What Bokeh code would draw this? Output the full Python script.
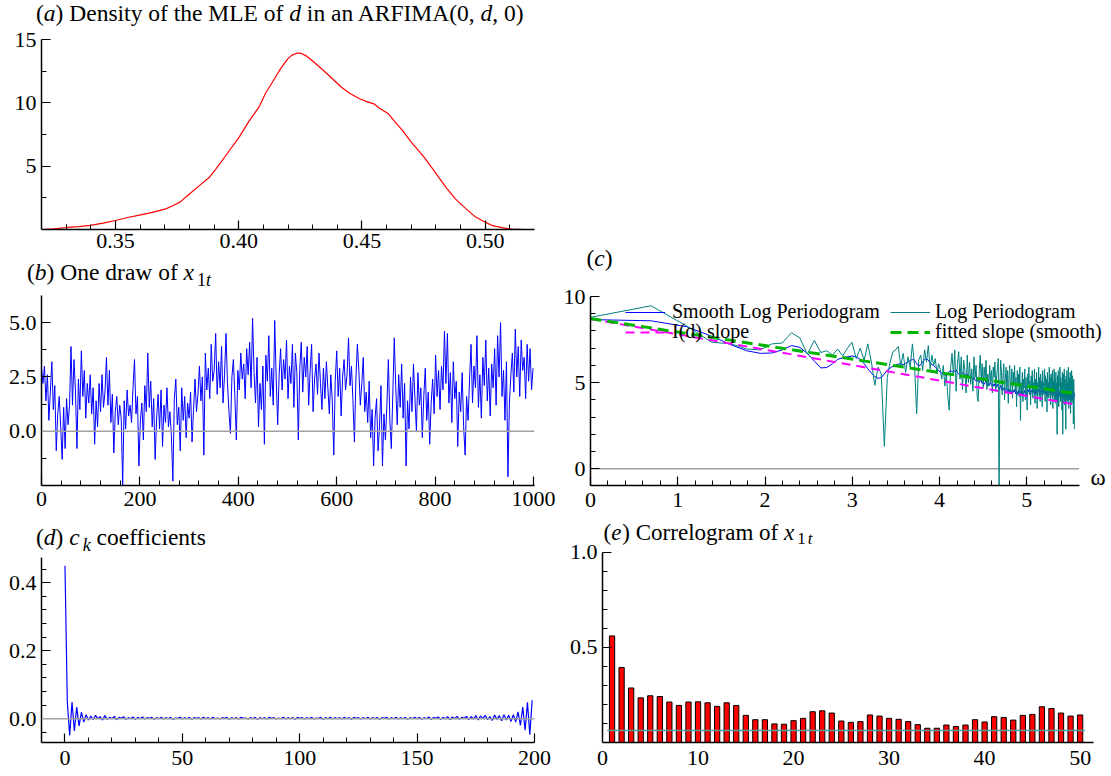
import numpy as np
from bokeh.plotting import figure
from bokeh.models import FixedTicker, PrintfTickFormatter, Span, Label, Legend, LegendItem, Div
from bokeh.layouts import column, row
from bokeh.embed import file_html
from bokeh.resources import INLINE

FONT = "serif"

# ---------------- data ----------------
# (a) density of the MLE of d
mle_d = [0.3204, 0.325, 0.3303, 0.335, 0.3398, 0.345, 0.35, 0.355, 0.3602, 0.365, 0.3704, 0.373,
         0.3762, 0.380, 0.3849, 0.388, 0.3908, 0.395, 0.4002, 0.404, 0.4082, 0.411, 0.4141, 0.417,
         0.4199, 0.4215, 0.4235, 0.425, 0.4272, 0.430, 0.4344, 0.438, 0.4417, 0.445, 0.449, 0.452,
         0.4548, 0.457, 0.4607, 0.463, 0.4665, 0.470, 0.4752, 0.479, 0.484, 0.488, 0.4927, 0.496,
         0.500, 0.503, 0.5073, 0.511, 0.5161]
mle_density = [0.0, 0.05, 0.16, 0.22, 0.32, 0.5, 0.71, 0.95, 1.16, 1.35, 1.63, 1.85,
               2.16, 2.8, 3.6, 4.1, 4.79, 5.9, 7.29, 8.5, 9.66, 10.8, 11.76, 12.7,
               13.47, 13.75, 13.92, 13.93, 13.73, 13.3, 12.55, 11.9, 11.23, 10.75, 10.32, 10.1,
               9.92, 9.6, 9.13, 8.6, 7.81, 6.9, 5.71, 4.7, 3.34, 2.4, 1.55, 1.0,
               0.58, 0.3, 0.13, 0.03, 0.0]

# (b) one draw of x_1t (every 3rd observation)
x1t_step = 3
x1t = [
    2.9, 2.2, 3.0, 1.4, 2.6, 0.5, 1.8, 3.2, 1.0, 2.1, -0.9, 0.8, 1.6, 0.2, -1.3, 1.1, -0.8, 1.5, 0.3, 1.2,
    3.9, 1.2, 3.3, 1.9, -0.8, 2.4, 1.0, 3.7, 1.6, 2.8, 0.6, 2.2, 1.3, 2.6, 0.8, 2.0, -0.6, 1.4, 0.2, 2.2,
    0.9, 2.6, 1.1, 1.8, 3.4, 1.2, 2.8, 0.4, 1.7, -1.0, 0.9, 1.6, 0.3, 1.2, 0.6, -2.5, 1.4, 0.1, 1.9, 0.7,
    1.2, 0.4, 2.0, 3.3, 0.8, 1.6, -1.6, 0.5, 1.3, -0.4, 2.1, 0.9, 3.6, 1.1, 2.3, 0.2, 1.5, -1.3, 0.6, 1.7,
    0.1, 1.9, -0.7, 1.2, 0.4, 2.0, 0.2, 0.9, -0.2, -2.3, 1.5, 2.4, 0.3, 1.1, -0.9, 2.0, 0.5, 1.6, -0.3, 1.3,
    0.6, 1.8, -0.5, 1.0, 2.4, 0.9, 1.7, 3.0, 1.4, 2.5, -1.1, 3.6, 1.9, 2.9, 1.5, 4.0, 2.3, 2.8, 4.5, 1.7,
    3.2, 2.0, 3.9, 1.3, 2.6, 4.5, 2.2, 0.9, -0.1, 2.5, 3.3, 1.6, -0.4, 2.8, 1.9, 3.6, 2.4, 3.1, 1.5, 3.8,
    2.6, 4.1, 2.0, 5.2, 2.7, 1.3, 3.4, 0.2, 2.2, 1.0, 3.0, -0.6, 3.5, 2.3, 4.4, 1.6, 2.9, 1.2, 5.1, 2.4,
    0.3, 2.6, 3.8, 1.9, 3.3, 2.4, 4.2, 1.5, 3.0, 2.2, 4.0, 1.1, 3.6, 2.7, -0.4, 2.9, 4.1, 1.8, 3.4, 2.5,
    3.9, 1.2, 2.8, 4.0, 0.9, 2.4, 3.1, 1.7, 3.6, 2.2, 1.0, 2.9, 1.5, 3.2, 2.0, 0.8, 2.6, 1.4, -1.1, 2.3,
    3.7, 1.6, 2.9, 0.7, 2.5, 3.3, 1.9, 2.6, 4.3, 2.1, 3.0, 1.4, -0.5, 2.4, 4.0, 2.8, 1.2, 2.2, 3.4, 0.9,
    1.8, 0.4, 2.3, -0.3, 1.0, -1.6, 0.6, 1.5, -0.9, 0.2, 2.1, -1.6, 0.8, -0.4, 1.2, 3.3, 0.5, -0.8, 1.7, 4.3,
    2.0, 0.3, 2.6, 1.1, 3.1, 0.6, 2.2, -1.6, 1.4, 0.1, 2.5, 0.9, 3.1, 1.5, 0.0, 2.7, 1.2, 2.0, -0.3, 1.6,
    2.9, 0.5, 1.8, -0.6, 1.3, 2.4, 0.8, 3.5, 1.6, 2.8, 1.0, 3.0, 1.9, 4.6, 2.2, 4.5, 1.3, 2.7, 0.4, 3.2,
    1.5, 2.3, -0.7, 1.8, 0.9, 2.7, 0.2, -1.1, 1.6, 0.5, 2.4, 4.0, 1.3, 3.0, 2.0, 4.4, 1.1, 2.6, 0.6, 3.4,
    2.1, 4.2, 1.4, 2.9, 0.7, 3.1, 2.0, 3.8, 1.2, 4.4, 2.5, 5.0, 1.6, 2.8, 0.5, 3.2, -2.1, 1.3, 2.6, 3.6,
    1.8, 4.7, 2.5, 3.9, 1.6, 4.2, 2.8, 3.4, 1.5, 4.0, 2.3, 3.8, 1.9, 2.9]

# (c) log periodogram at Fourier frequency index j = 1..256 (plotted against log j)
log_periodogram = [
    8.79, 9.46, 8.3, 7.35, 7.25, 6.95, 6.9, 7.25, 7.3, 7.9, 7.6, 6.65, 7.45, 6.75, 6.85, 6.6,
    6.95, 6.55, 7.0, 7.35, 6.4, 7.0, 6.3, 7.25, 6.2, 4.85, 5.9, 5.5, 1.3, 5.3, 6.2, 6.8,
    6.9, 7.1, 6.0, 6.7, 5.6, 6.5, 5.9, 7.25, 6.0, 3.2, 6.3, 6.6, 5.7, 6.9, 6.2, 7.15,
    5.8, 6.6, 6.0, 6.4, 5.5, 6.1, 5.8, 5.2, 6.0, 4.8, 5.5, 4.2, 3.4, 5.9, 6.7, 5.4,
    6.9, 4.5, 6.1, 6.8, 5.2, 6.5, 4.6, 6.3, 5.7, 4.4, 6.6, 5.0, 6.2, 4.9, 5.8, 4.5,
    6.5, 5.3, 6.0, 4.2, 3.9, 5.6, 6.6, 5.1, 6.1, 4.7, 5.9, 5.2, 6.3, 4.6, 5.5, 4.8,
    6.0, 5.0, 5.7, 4.4, 5.9, 5.3, 6.2, 4.5, 5.4, 5.8, 6.4, -1.5, 4.9, 6.3, 5.6, 4.3,
    5.5, 6.1, 4.0, 5.2, 5.9, 4.6, 5.7, 3.8, 5.4, 6.0, 4.4, 5.1, 5.8, 4.1, 5.6, 4.9,
    6.0, 4.5, 5.3, 3.6, 5.7, 4.8, 5.5, 4.2, 5.9, 2.8, 5.0, 4.4, 5.6, 3.9, 5.2, 4.7,
    5.8, 4.0, 5.3, 4.6, 3.4, 5.5, 4.9, 5.9, 4.3, 5.1, 3.7, 5.4, 4.8, 5.7, 4.1, 5.0,
    4.5, 5.8, 3.8, 5.2, 4.4, 5.6, 3.5, 5.0, 4.7, 5.9, 4.2, 5.3, 3.9, 5.5, 4.6, 5.1,
    3.6, 5.7, 4.3, 5.0, 4.8, 5.8, 3.9, 5.4, 4.5, 5.2, 3.3, 5.6, 4.7, 5.0, 4.1, 5.9,
    4.4, 5.3, 3.7, 5.5, 4.9, 4.2, 5.7, 3.5, 5.1, 4.6, 5.8, 4.0, 5.2, 3.8, 5.6, 4.5,
    5.0, 2.0, 5.4, 4.3, 5.7, 3.6, 5.1, 4.8, 5.9, 3.9, 5.3, 4.4, 5.0, 3.4, 5.6, 2.0,
    4.7, 5.5, 4.1, 5.8, 3.7, 5.2, 4.6, 2.3, 5.4, 4.2, 5.7, 3.9, 5.0, 4.5, 5.9, 3.5,
    5.3, 4.8, 4.0, 5.6, 3.2, 5.1, 4.6, 5.7, 3.8, 5.4, 4.3, 5.0, 2.6, 5.2, 4.4, 2.3]
smooth_log_periodogram = [
    8.66, 8.59, 8.25, 7.7, 7.2, 6.85, 6.7, 6.72, 6.9, 7.15, 7.05, 6.7, 6.25, 5.85, 5.88, 6.1,
    6.35, 6.45, 6.5, 6.55, 6.5, 6.35, 6.1, 5.8, 5.55, 5.35, 5.25, 5.3, 5.5, 5.72, 5.85, 5.95,
    6.0, 6.08, 6.1, 6.05, 6.12, 6.2, 6.28, 6.35, 6.3, 6.1, 5.95, 6.05, 6.2, 6.35, 6.4, 6.3,
    6.15, 6.05, 6.0, 5.9, 5.8, 5.7, 5.6, 5.55, 5.5, 5.45, 5.4, 5.5, 5.65, 5.7, 5.65, 5.6,
    5.7, 5.75, 5.6, 5.5, 5.45, 5.5, 5.6, 5.55, 5.45, 5.4, 5.5, 5.35, 5.3, 5.4, 5.25, 5.2,
    5.3, 5.15, 5.1, 5.2, 5.05, 5.0, 5.15, 5.1, 4.95, 5.05, 4.9, 5.0, 5.1, 4.85, 4.95, 4.8,
    4.9, 5.0, 4.85, 4.75, 4.9, 4.8, 4.95, 4.7, 4.8, 4.9, 4.75, 4.6, 4.7, 4.85, 4.65, 4.55,
    4.7, 4.6, 4.5, 4.65, 4.55, 4.4, 4.6, 4.5, 4.45, 4.6, 4.4, 4.55, 4.5, 4.35, 4.55, 4.45,
    4.6, 4.5, 4.35, 4.5, 4.45, 4.3, 4.55, 4.4, 4.5, 4.2, 4.45, 4.35, 4.5, 4.4, 4.3, 4.45,
    4.55, 4.4, 4.5, 4.35, 4.2, 4.45, 4.5, 4.6, 4.4, 4.5, 4.3, 4.45, 4.55, 4.6, 4.45, 4.5,
    4.4, 4.55, 4.3, 4.45, 4.5, 4.6, 4.3, 4.4, 4.5, 4.6, 4.45, 4.5, 4.35, 4.5, 4.45, 4.55,
    4.3, 4.5, 4.4, 4.45, 4.5, 4.6, 4.35, 4.5, 4.4, 4.45, 4.2, 4.45, 4.5, 4.4, 4.3, 4.55,
    4.45, 4.5, 4.3, 4.5, 4.45, 4.35, 4.5, 4.25, 4.4, 4.45, 4.55, 4.3, 4.4, 4.25, 4.5, 4.4,
    4.35, 3.9, 4.3, 4.35, 4.45, 4.2, 4.35, 4.4, 4.5, 4.2, 4.35, 4.3, 4.4, 4.1, 4.3, 3.8,
    4.2, 4.35, 4.25, 4.4, 4.1, 4.3, 4.25, 3.9, 4.3, 4.2, 4.35, 4.1, 4.25, 4.2, 4.4, 4.0,
    4.25, 4.3, 4.1, 4.35, 3.95, 4.2, 4.25, 4.35, 4.0, 4.25, 4.15, 4.2, 3.9, 4.2, 4.15, 4.4]
id_slope_ends = [8.70, 3.74]        # I(d) slope line, first and last frequency
fitted_slope_ends = [8.72, 4.37]    # fitted slope (smooth), first and last frequency

# (d) c_k coefficients, k = 0..199
ck = [
    0.45, 0.049, -0.049, 0.049, -0.036, 0.034, -0.022, 0.019, -0.010, 0.012,
    -0.004, 0.008, -0.003, 0.010, 0.000, 0.006, -0.004, 0.009, -0.002, 0.004,
    0.000, 0.007, -0.003, 0.004, 0.001, 0.006, -0.002, 0.003, 0.000, 0.005,
    -0.002, 0.004, 0.000, 0.005, -0.001, 0.003, 0.001, 0.004, -0.002, 0.003,
    0.000, 0.004, -0.001, 0.003, 0.000, 0.004, -0.002, 0.002, 0.001, 0.004,
    -0.001, 0.003, 0.000, 0.004, -0.002, 0.003, 0.001, 0.003, -0.001, 0.004,
    0.000, 0.003, -0.001, 0.004, 0.000, 0.002, -0.001, 0.003, 0.001, 0.004,
    -0.002, 0.003, 0.000, 0.003, -0.001, 0.004, 0.001, 0.002, -0.001, 0.003,
    0.000, 0.004, -0.002, 0.003, 0.000, 0.003, -0.001, 0.004, 0.001, 0.003,
    -0.001, 0.002, 0.000, 0.004, -0.001, 0.003, 0.000, 0.003, -0.002, 0.004,
    0.001, 0.003, -0.001, 0.003, 0.000, 0.004, -0.001, 0.002, 0.001, 0.004,
    -0.002, 0.003, 0.000, 0.004, -0.001, 0.003, 0.000, 0.003, -0.001, 0.004,
    0.000, 0.003, -0.002, 0.004, 0.001, 0.003, -0.001, 0.003, 0.000, 0.004,
    -0.001, 0.003, 0.000, 0.004, -0.002, 0.003, 0.001, 0.004, -0.001, 0.003,
    0.000, 0.004, -0.001, 0.003, 0.000, 0.004, -0.002, 0.003, 0.000, 0.004,
    0.000, 0.004, -0.002, 0.003, 0.000, 0.005, -0.002, 0.004, 0.001, 0.005,
    -0.002, 0.004, 0.000, 0.006, -0.003, 0.005, 0.000, 0.007, -0.002, 0.004,
    0.001, 0.007, -0.003, 0.006, -0.001, 0.009, -0.004, 0.008, 0.000, 0.010,
    -0.003, 0.006, -0.005, 0.011, -0.002, 0.009, -0.006, 0.012, -0.004, 0.010,
    -0.008, 0.012, -0.010, 0.020, -0.020, 0.034, -0.034, 0.048, -0.047, 0.054]

# (e) correlogram of x_1t, lags 1..50
acf = [0.561, 0.395, 0.287, 0.235, 0.246, 0.242, 0.213, 0.195, 0.213, 0.214,
       0.209, 0.190, 0.209, 0.195, 0.143, 0.120, 0.120, 0.098, 0.096, 0.115,
       0.127, 0.162, 0.167, 0.155, 0.113, 0.106, 0.110, 0.145, 0.139, 0.127,
       0.122, 0.110, 0.094, 0.075, 0.075, 0.092, 0.084, 0.092, 0.120, 0.108,
       0.136, 0.132, 0.118, 0.143, 0.148, 0.188, 0.179, 0.155, 0.139, 0.145]
acf_band = 0.063

# ---------------- helpers ----------------
TITLE_PX = 23.5
SUB_PX = 18
SUB = ("<span style=\"font-size:" + str(SUB_PX) +
       "px;position:relative;top:6px;margin-left:3px;\">{}</span>")

REG = {' ': 250, '(': 333, ')': 333, ',': 250, '.': 250, 'C': 667,
       'a': 444, 'b': 500, 'c': 444, 'd': 500, 'e': 444, 'f': 333, 'g': 500, 'h': 500, 'i': 278,
       'k': 500, 'l': 278, 'm': 778, 'n': 500, 'o': 500, 'p': 500, 'r': 333, 's': 389, 't': 278,
       'w': 722, 'x': 500, 'y': 500}
ITA = {'a': 500, 'b': 500, 'c': 444, 'd': 500, 'e': 444, 'k': 444, 't': 278, 'x': 444}
LABEL_DY = 10   # vertical correction for Label placement (screen px)


def twidth(s, ital):
    tot = 0
    for ch in s:
        if ch.isdigit():
            tot += 500
        elif ital and ch in ITA:
            tot += ITA[ch]
        else:
            tot += REG.get(ch, 500)
    return tot


def label_title(p, pieces, sx, sy, size=23, sub_size=17, sub_drop=6):
    """Title drawn with Labels inside the frame (screen units from frame bottom-left)."""
    x = sx
    for text, ital, sub in pieces:
        fs = sub_size if sub else size
        lead = len(text) - len(text.lstrip(' '))
        trail = len(text) - len(text.rstrip(' '))
        core = text.strip(' ')
        x += lead * 250 * fs / 1000.0
        if sub:
            x += 2
        y = sy + LABEL_DY - (sub_drop if sub else 0)
        if core:
            p.add_layout(Label(x=x, y=y, x_units="screen", y_units="screen", text=core,
                               text_font=FONT, text_font_size=f"{fs}px",
                               text_font_style="italic" if ital else "normal",
                               text_baseline="alphabetic", text_align="left", text_color="black"))
            x += twidth(core, ital) * fs / 1000.0
        x += trail * 250 * fs / 1000.0
        if ital:
            x += 1


def title_div(html, w, h, pad_left, pad_top):
    inner = ("<div style=\"margin:0;padding:0;padding-left:{}px;padding-top:{}px;"
             "font-family:'Liberation Serif';font-size:{}px;line-height:23px;"
             "white-space:nowrap;color:#000;\">{}</div>").format(pad_left, pad_top, TITLE_PX, html)
    return Div(text=inner, width=w, height=h, margin=0)


def make_fig(w, h, xr, yr, left, right, top, bottom):
    p = figure(width=w, height=h, x_range=xr, y_range=yr, output_backend="svg",
               toolbar_location=None, min_border_left=left, min_border_right=right,
               min_border_top=top, min_border_bottom=bottom, margin=0)
    p.outline_line_color = None
    p.xgrid.visible = False
    p.ygrid.visible = False
    p.background_fill_color = "white"
    p.border_fill_color = "white"
    return p


def style_axis(ax, ticks, minor, fmt=None, standoff=3, tick_in=9, minor_in=5):
    ax.ticker = FixedTicker(ticks=ticks, minor_ticks=minor)
    if fmt:
        ax.formatter = PrintfTickFormatter(format=fmt)
    ax.axis_line_color = "black"
    ax.axis_line_width = 1.5
    ax.major_tick_in = tick_in
    ax.major_tick_out = 0
    ax.minor_tick_in = minor_in
    ax.minor_tick_out = 0
    ax.major_tick_line_color = "black"
    ax.major_tick_line_width = 1.2
    ax.minor_tick_line_color = "black"
    ax.minor_tick_line_width = 1
    ax.major_label_text_font = FONT
    ax.major_label_text_font_size = "22px"
    ax.major_label_text_color = "black"
    ax.major_label_standoff = standoff


def zero_line(p):
    p.add_layout(Span(location=0, dimension="width", line_color="#a0a0a0", line_width=1.5))


# ---------------- (a) ----------------
div_a = title_div("(<i>a</i>) Density of the MLE of <i>d</i> in an ARFIMA(0, <i>d</i>, 0)",
                  560, 26, 36, 2.3)
pa = make_fig(560, 230, (0.32, 0.52), (0, 15), 41, 26, 13, 27)
pa.line(mle_d, mle_density, line_color="#ff0000", line_width=1.2)
style_axis(pa.xaxis[0], [0.35, 0.40, 0.45, 0.50],
           [0.33, 0.34, 0.36, 0.37, 0.38, 0.39, 0.41, 0.42, 0.43, 0.44, 0.46, 0.47, 0.48, 0.49, 0.51],
           "%.2f", standoff=4)
style_axis(pa.yaxis[0], [5, 10, 15], [2.5, 7.5, 12.5], standoff=5)

# ---------------- (b) ----------------
div_b = title_div("(<i>b</i>) One draw of <i>x</i>" + SUB.format("1<i>t</i>"), 560, 36, 27, 4.7)
pb = make_fig(560, 228, (0, 1002), (-2.5, 6.25), 41, 26, 3, 35)
t_b = np.arange(len(x1t)) * x1t_step
zero_line(pb)
pb.line(t_b, x1t, line_color="#0000ff", line_width=1)
style_axis(pb.xaxis[0], [0, 200, 400, 600, 800, 1000],
           [v for v in range(40, 1000, 40) if v % 200], standoff=6)
style_axis(pb.yaxis[0], [0, 2.5, 5.0], [-1.25, 1.25, 3.75], "%.1f", standoff=5)

# ---------------- (c) ----------------
div_c = title_div("(<i>c</i>)", 550, 275, 26.5, 246.7)
c_axis_end = 5.6
pc = make_fig(550, 243, (0, 5.936), (-0.97, 10), 28, 2, 21, 33)
omega = np.log(np.arange(1, len(log_periodogram) + 1))
pc.line([0, c_axis_end], [0, 0], line_color="#a0a0a0", line_width=1.5)
r_smooth = pc.line(omega, smooth_log_periodogram, line_color="#0000ff", line_width=1)
r_logp = pc.line(omega, log_periodogram, line_color="#008080", line_width=1)
ends = [omega[0], omega[-1]]
r_id = pc.line(ends, id_slope_ends, line_color="#ff00ff", line_width=2, line_dash="9 6")
r_fit = pc.line(ends, fitted_slope_ends, line_color="#00b400", line_width=3, line_dash="11 6")
style_axis(pc.xaxis[0], [0, 1, 2, 3, 4, 5],
           [round(i * 0.2, 1) for i in range(1, 28) if i % 5], standoff=7)
pc.xaxis[0].bounds = (0, c_axis_end)
style_axis(pc.yaxis[0], [0, 5, 10], [1, 2, 3, 4, 6, 7, 8, 9], standoff=5)
pc.add_layout(Label(x=500, y=LABEL_DY - 2, x_units="screen", y_units="screen", text="ω",
                    text_font=FONT, text_font_size="23px", text_baseline="alphabetic",
                    text_color="black"))


def add_leg(p, r, label, vx, vy, standoff):
    leg = Legend(items=[LegendItem(label=label, renderers=[r])], location=(vx, vy),
                 orientation="vertical", glyph_width=40, glyph_height=20, label_height=20,
                 label_standoff=standoff, padding=0, margin=0, spacing=0,
                 border_line_color=None, background_fill_alpha=0,
                 label_text_font=FONT, label_text_font_size="20px", label_text_color="black")
    p.add_layout(leg)


add_leg(pc, r_smooth, "Smooth Log Periodogram", 35, 162, 7)
add_leg(pc, r_id, "I(d) slope", 35, 142, 7)
add_leg(pc, r_logp, "Log Periodogram", 300, 162, 5)
add_leg(pc, r_fit, "fitted slope (smooth)", 300, 142, 5)

# ---------------- (d) ----------------
div_d = title_div("(<i>d</i>) <i>c</i>" + SUB.format("<i>k</i>") + " coefficients", 560, 31, 36, 5.7)
pd_ = make_fig(560, 223, (-10, 200), (-0.07, 0.474), 41, 26, 6, 32)
k = np.arange(len(ck))
zero_line(pd_)
pd_.line(k, ck, line_color="#0000ff", line_width=1.2)
style_axis(pd_.xaxis[0], [0, 50, 100, 150, 200],
           [v for v in range(-10, 200, 10) if v % 50], standoff=8)
style_axis(pd_.yaxis[0], [0, 0.2, 0.4],
           [-0.04, 0.04, 0.08, 0.12, 0.16, 0.24, 0.28, 0.32, 0.36, 0.44], "%.1f", standoff=5)

# ---------------- (e) ----------------
# frame extends above 1.0 to hold the title; the y axis itself stops at 1.0
pe = make_fig(550, 254, (0, 51.4), (0, 1.1684), 42, 17, 0, 32)
lags = np.arange(1, len(acf) + 1)
pe.vbar(x=lags, top=acf, width=0.55, fill_color="#ff0000", line_color="black", line_width=1)
pe.line([lags[0] - 0.5, lags[-1] + 0.5], [acf_band, acf_band], line_color="#4d9f9f", line_width=1.5)
style_axis(pe.xaxis[0], [0, 10, 20, 30, 40, 50], [], standoff=8, tick_in=0, minor_in=0)
style_axis(pe.yaxis[0], [0.5, 1.0], [0.1, 0.2, 0.3, 0.4, 0.6, 0.7, 0.8, 0.9], "%.1f", standoff=5)
pe.yaxis[0].bounds = (0, 1.0)
label_title(pe, [("(", 0, 0), ("e", 1, 0), (") Correlogram of ", 0, 0), ("x", 1, 0),
                 ("1", 0, 1), ("t", 1, 1)], 1, 742 - 541.5)

top_row = row(column(div_a, pa, div_b, pb, spacing=0), column(div_c, pc, spacing=0), spacing=0)
bottom_row = row(column(div_d, pd_, spacing=0), pe, spacing=0)
layout = column(top_row, bottom_row, spacing=0)
open("out.html", "w").write(file_html(layout, INLINE))
